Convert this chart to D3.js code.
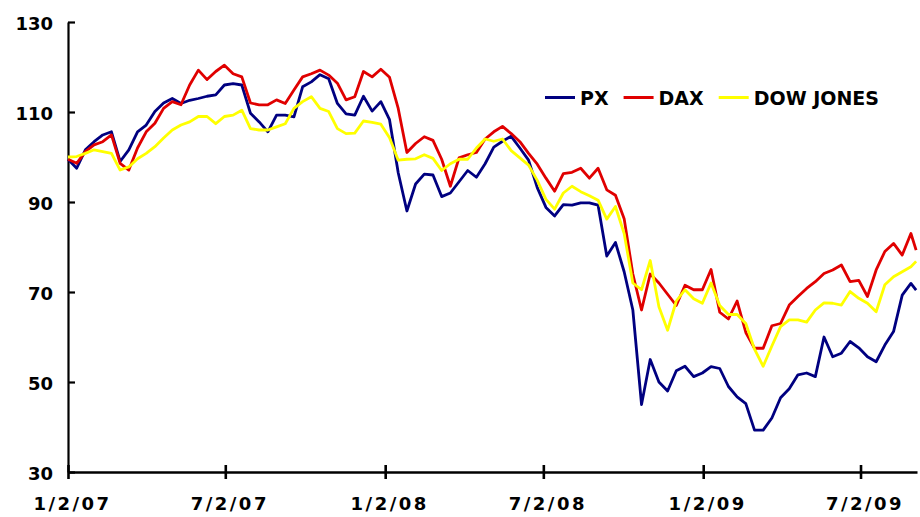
<!DOCTYPE html>
<html>
<head>
<meta charset="utf-8">
<script src="https://cdn.jsdelivr.net/npm/d3@7/dist/d3.min.js"></script>
<style>
  body { margin: 0; background: #fff; }
  svg text { font-family: Verdana, "DejaVu Sans", sans-serif; font-weight: bold; fill: #000; }
</style>
</head>
<body>
<svg id="chart" width="920" height="517"></svg>
<script>
// DATA, one value every 10 calendar days from 1/2/07, plus the last day
const startDate = "2007-01-02";
const lastDate = "2009-09-04";
const stepDays = 10;

const seriesNames = ["PX", "DAX", "DOW JONES"];
const seriesColors = ["#000080", "#e00000", "#ffff00"];

const pxValues = [
  99.5, 97.5, 101.6, 103.4, 104.9, 105.6, 99, 101.6, 105.6, 107.1,
  110.1, 112, 113, 111.9, 112.6, 113, 113.5, 113.8, 116, 116.3,
  116, 109.7, 107.8, 105.6, 109.3, 109.3, 108.9, 115.6, 116.7, 118.3,
  117.4, 111.9, 109.6, 109.3, 113.5, 110.2, 112.3, 108.3, 96.5, 88,
  94, 96.2, 96, 91.2, 92, 94.5, 97, 95.5, 98.5, 102.2,
  103.5, 104.6, 102, 99.3, 93.2, 88.8, 86.9, 89.4, 89.3, 89.8,
  89.8, 89.3, 78, 81, 74.5, 66, 45, 55, 50, 48,
  52.5, 53.5, 51.2, 52, 53.4, 53, 49, 46.7, 45.2, 39.3,
  39.3, 42, 46.5, 48.5, 51.6, 52, 51.2, 60, 55.6, 56.4,
  59, 57.6, 55.6, 54.5, 58.2, 61.2, 69.3, 71.9, 70.4
];

const daxValues = [
  99.5, 98.6, 101.2, 102.7, 103.4, 104.9, 98.6, 97.1, 102, 105.6,
  107.5, 110.8, 112.3, 111.6, 116, 119.3, 117.2, 119, 120.4, 118.5,
  117.8, 112, 111.6, 111.6, 112.7, 111.9, 114.9, 117.8, 118.5, 119.3,
  118.2, 116.4, 112.7, 113.4, 119, 117.8, 119.5, 117.7, 110.8, 101,
  103, 104.5, 103.7, 99.5, 93.5, 99.8, 100.5, 101, 104, 105.6,
  106.8, 105.2, 103.4, 100.8, 98.4, 95.3, 92.4, 96.3, 96.6, 97.5,
  95.3, 97.5, 92.7, 91.5, 86.3, 74, 66, 74, 72, 69.5,
  67, 71.5, 70.5, 70.5, 75, 65.5, 64, 68, 61, 57.5,
  57.5, 62.5, 63, 67.1, 69, 70.8, 72.3, 74.1, 74.9, 76,
  72.3, 72.6, 69, 74.9, 79, 80.8, 78.2, 83, 79.3
];

const dowValues = [
  100, 100.1, 100.8, 101.6, 101.2, 100.8, 97.1, 97.8, 99.6, 100.8,
  102.3, 104.2, 106, 107.1, 107.8, 109, 109, 107.4, 109, 109.3,
  110.4, 106.3, 106, 106, 106.7, 107.4, 110.8, 112.3, 113.4, 110.8,
  110.1, 106.3, 105.2, 105.3, 108, 107.7, 107.3, 104.3, 99.3, 99.5,
  99.6, 100.5, 99.7, 97, 98.5, 99.5, 99.5, 102, 104, 103.5,
  104, 101.4, 99.8, 98.2, 94.8, 90.6, 88.4, 92, 93.5, 92.3,
  91.4, 90.4, 86.2, 89, 83, 72, 70.5, 77, 66.7, 61.5,
  68, 70.5, 68.5, 67.5, 72, 67, 65, 65, 63, 57.3,
  53.5, 58, 62.3, 63.8, 63.8, 63.3, 66, 67.6, 67.5, 67.1,
  70.1, 68.6, 67.5, 65.6, 71.6, 73.4, 74.5, 75.6, 76.8
];

const yTicks = [30, 50, 70, 90, 110, 130];
const xTickLabels = ["1/2/07", "7/2/07", "1/2/08", "7/2/08", "1/2/09", "7/2/09"];

//--------------------------------------------------------------------------------
// dates for every value
const parseDay = d3.utcParse("%Y-%m-%d");
const parseTick = d3.utcParse("%m/%d/%y");
const start = parseDay(startDate);
const last = parseDay(lastDate);
const dates = d3.utcDay.range(start, last, stepDays).concat([last]);

const allValues = [pxValues, daxValues, dowValues];

const svg = d3.select("#chart");

const x = d3.scaleUtc()
  .domain([start, d3.utcDay.offset(last, 1)])
  .range([68, 917]);

const y = d3.scaleLinear()
  .domain([30, 130])
  .range([472, 22]);

// Y AXIS (ticks point into the plot, labels on the left)
const yAxis = svg.append("g")
  .attr("transform", "translate(68,0)")
  .call(d3.axisLeft(y).tickValues(yTicks).tickSize(-7).tickSizeOuter(0).tickPadding(15));
yAxis.select(".domain").attr("stroke", "#000").attr("stroke-width", 2.2);
yAxis.selectAll(".tick line").attr("stroke", "#000").attr("stroke-width", 2.2);
yAxis.selectAll(".tick text")
  .attr("dy", "0.4em")
  .style("font-size", "18px");

// X AXIS (ticks cross the line)
const xAxis = svg.append("g")
  .attr("transform", "translate(0,472)")
  .call(d3.axisBottom(x)
    .tickValues(xTickLabels.map(parseTick))
    .tickFormat((d, i) => xTickLabels[i])
    .tickSize(7).tickSizeOuter(0).tickPadding(18));
xAxis.select(".domain").attr("stroke", "#000").attr("stroke-width", 2.6);
xAxis.selectAll(".tick line")
  .attr("y1", -7).attr("y2", 7)
  .attr("stroke", "#000").attr("stroke-width", 2.6);
xAxis.selectAll(".tick text")
  .attr("dx", 4)
  .style("font-size", "18px")
  .style("letter-spacing", "2.5px");

// LINES
const line = d3.line()
  .x((d, i) => x(dates[i]))
  .y(d => y(d));

svg.append("g")
  .selectAll("path")
  .data(allValues)
  .join("path")
  .attr("d", line)
  .attr("fill", "none")
  .attr("stroke", (d, i) => seriesColors[i])
  .attr("stroke-width", 2.8)
  .attr("stroke-linejoin", "round");

// LEGEND
const legend = svg.append("g").attr("transform", "translate(545,97.5)");
let lx = 0;
seriesNames.forEach((name, i) => {
  legend.append("line")
    .attr("x1", lx).attr("x2", lx + 30)
    .attr("y1", 0).attr("y2", 0)
    .attr("stroke", seriesColors[i])
    .attr("stroke-width", 3);
  const t = legend.append("text")
    .attr("x", lx + 35)
    .attr("y", 7.5)
    .style("font-size", "19px")
    .text(name);
  lx += 35 + t.node().getComputedTextLength() + 15;
});
</script>
</body>
</html>
